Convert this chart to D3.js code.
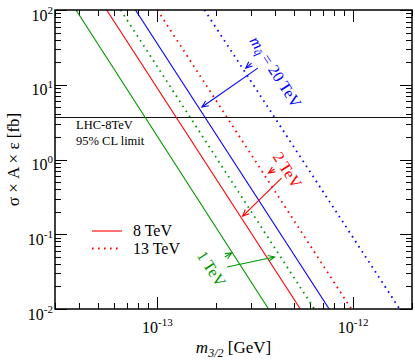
<!DOCTYPE html>
<html><head><meta charset="utf-8">
<script src="https://cdn.jsdelivr.net/npm/d3@7"></script>
<style>body{margin:0;background:#fff}svg{display:block}</style>
</head><body><svg id="c" width="415" height="361"></svg>
<script>
// ---------- data ----------
const xDomain = [3e-14, 2e-12];           // m_3/2 [GeV]
const yDomain = [1e-2, 1e2];              // sigma x A x eps [fb]
const xMajorTicks = [1e-13, 1e-12];
const xTickExponents = ["-13", "-12"];
const yMajorTicks = [1e-2, 1e-1, 1e0, 1e1, 1e2];
const yTickExponents = ["-2", "-1", "0", "1", "2"];

const squarkMasses = ["1 TeV", "1 TeV", "2 TeV", "2 TeV", "20 TeV", "20 TeV"];
const energies     = ["8 TeV", "13 TeV", "8 TeV", "13 TeV", "8 TeV", "13 TeV"];
const sigmaEnds    = [100, 0.01];  // sigma values at the two read-off points of each line
const m32AtSigmaTop    = [3.84e-14, 6.49e-14, 5.51e-14, 1.00e-13, 7.73e-14, 1.74e-13];
const m32AtSigmaBottom = [3.70e-13, 6.34e-13, 5.38e-13, 9.80e-13, 7.55e-13, 1.73e-12];
const lhcLimitFb = 3.7;

// annotation arrows [m, sigma]
const arrowMass  = ["20 TeV", "20 TeV", "2 TeV", "2 TeV", "1 TeV", "1 TeV"];
const arrowFrom  = [[3.26e-13, 16.7], [3.03e-13, 19.5], [4.31e-13, 0.565], [3.97e-13, 0.746], [2.27e-13, 0.0365], [2.21e-13, 0.0497]];
const arrowTo    = [[1.69e-13, 5.04], [2.83e-13, 16.7], [2.73e-13, 0.175], [3.70e-13, 0.659], [3.97e-13, 0.0497], [2.40e-13, 0.0561]];
const labelMass  = ["20 TeV", "2 TeV", "1 TeV"];
const labelAt    = [[4.04e-13, 15.0], [4.62e-13, 0.724], [1.89e-13, 0.0348]];

// ---------- styles ----------
const colorOf = {"1 TeV": "#009600", "2 TeV": "#ff0000", "20 TeV": "#0000ff"};
const FONT = "'Liberation Serif','Times New Roman',serif";

const W = 415, H = 361;
const M = {l: 55, t: 10, r: 3, b: 52};
const pw = W - M.l - M.r, ph = H - M.t - M.b;

const svg = d3.select("#c");
const x = d3.scaleLog().domain(xDomain).range([M.l, M.l + pw]);
const y = d3.scaleLog().domain(yDomain).range([M.t + ph, M.t]);

svg.append("defs").append("clipPath").attr("id", "clip")
  .append("rect").attr("x", M.l).attr("y", M.t).attr("width", pw).attr("height", ph);

// minor ticks lists
const xMinor = [], yMinor = [];
for (let e = -14; e <= -12; e++) for (let k = 2; k <= 9; k++) {
  const v = k * Math.pow(10, e);
  if (v > xDomain[0] * 0.999 && v < xDomain[1] * 1.001) xMinor.push(v);
}
for (let e = -2; e < 2; e++) for (let k = 2; k <= 9; k++) yMinor.push(k * Math.pow(10, e));

const tk = svg.append("g").attr("stroke", "#000").attr("stroke-width", 1);
function vt(v, len, top) {
  const X = Math.round(x(v)) + 0.5;
  const y0 = top ? M.t : M.t + ph;
  tk.append("line").attr("x1", X).attr("x2", X).attr("y1", y0).attr("y2", top ? y0 + len : y0 - len);
}
function ht(v, len, right) {
  const Y = Math.round(y(v)) + 0.5;
  const x0 = right ? M.l + pw : M.l;
  tk.append("line").attr("y1", Y).attr("y2", Y).attr("x1", x0).attr("x2", right ? x0 - len : x0 + len);
}
xMinor.forEach(v => { vt(v, 6, false); vt(v, 6, true); });
xMajorTicks.forEach(v => { vt(v, 12, false); vt(v, 12, true); });
yMinor.forEach(v => { ht(v, 6, false); ht(v, 6, true); });
yMajorTicks.forEach(v => { ht(v, 12, false); ht(v, 12, true); });

// lines
const lineGen = d3.line().x(d => x(d[0])).y(d => y(d[1]));
const plot = svg.append("g").attr("clip-path", "url(#clip)");
const limY = Math.round(y(lhcLimitFb)) + 0.5;
plot.append("line").attr("x1", M.l).attr("x2", M.l + pw)
  .attr("y1", limY).attr("y2", limY)
  .attr("stroke", "#111").attr("stroke-width", 1);
squarkMasses.forEach((mq, i) => {
  const pts = [[m32AtSigmaTop[i], sigmaEnds[0]], [m32AtSigmaBottom[i], sigmaEnds[1]]];
  const p = plot.append("path").attr("d", lineGen(pts)).attr("fill", "none")
    .attr("stroke", colorOf[mq]);
  if (energies[i] === "13 TeV") p.attr("stroke-width", 1.8).attr("stroke-dasharray", "1.6,4.4");
  else p.attr("stroke-width", 1.1);
});

// arrows
function arrow(g, x1, y1, x2, y2, col) {
  g.append("line").attr("x1", x1).attr("y1", y1).attr("x2", x2).attr("y2", y2)
    .attr("stroke", col).attr("stroke-width", 1.1);
  const a = Math.atan2(y2 - y1, x2 - x1), L = 7, s = 0.42;
  g.append("path").attr("fill", "none").attr("stroke", col).attr("stroke-width", 1.1)
    .attr("d", `M${x2 - L * Math.cos(a - s)},${y2 - L * Math.sin(a - s)}L${x2},${y2}L${x2 - L * Math.cos(a + s)},${y2 - L * Math.sin(a + s)}`);
}
const ann = svg.append("g");
arrowMass.forEach((mq, i) => {
  arrow(ann, x(arrowFrom[i][0]), y(arrowFrom[i][1]), x(arrowTo[i][0]), y(arrowTo[i][1]), colorOf[mq]);
});

// rotated labels
labelMass.forEach((mq, i) => {
  const t = ann.append("text")
    .attr("transform", `translate(${x(labelAt[i][0])},${y(labelAt[i][1])}) rotate(57)`)
    .attr("text-anchor", "middle").attr("dominant-baseline", "central")
    .attr("font-family", FONT).attr("font-size", 16).attr("fill", colorOf[mq]);
  if (i === 0) {
    t.append("tspan").attr("font-style", "italic").text("m");
    t.append("tspan").attr("font-style", "italic").attr("font-size", 11).attr("dy", 4).text("q\u0303");
    t.append("tspan").attr("dy", -4).text(" = " + mq);
  } else t.text(mq);
});

// frame
svg.append("rect").attr("x", M.l).attr("y", M.t).attr("width", pw).attr("height", ph)
  .attr("fill", "none").attr("stroke", "#000").attr("stroke-width", 1.5);

// tick labels
xMajorTicks.forEach((v, i) => {
  const t = svg.append("text").attr("x", x(v)).attr("y", 333).attr("text-anchor", "middle")
    .attr("font-family", FONT).attr("font-size", 16);
  t.append("tspan").text("10");
  t.append("tspan").attr("font-size", 11).attr("dy", -7).text(xTickExponents[i]);
});
yMajorTicks.forEach((v, i) => {
  const t = svg.append("text").attr("x", 53).attr("y", y(v) + 10.5).attr("text-anchor", "end")
    .attr("font-family", FONT).attr("font-size", 16);
  t.append("tspan").text("10");
  t.append("tspan").attr("font-size", 11).attr("dy", -7).text(yTickExponents[i]);
});

// axis titles
const xt = svg.append("text").attr("x", M.l + pw / 2).attr("y", 353).attr("text-anchor", "middle")
  .attr("font-family", FONT).attr("font-size", 17);
xt.append("tspan").attr("font-style", "italic").text("m");
xt.append("tspan").attr("font-style", "italic").attr("font-size", 12).attr("dy", 4).text("3/2");
xt.append("tspan").attr("dy", -4).text(" [GeV]");

svg.append("text").attr("transform", `translate(19,${M.t + ph / 2}) rotate(-90)`)
  .attr("text-anchor", "middle").attr("font-family", FONT).attr("font-size", 17)
  .text("σ × A × ε [fb]");

// LHC limit text
svg.append("text").attr("x", 76).attr("y", 129).attr("font-family", FONT).attr("font-size", 12.5).text("LHC-8TeV");
svg.append("text").attr("x", 76).attr("y", 145).attr("font-family", FONT).attr("font-size", 12.5).text("95% CL limit");

// legend
const legendEnergies = ["8 TeV", "13 TeV"];
legendEnergies.forEach((e, i) => {
  const yy = 231 + i * 17.5;
  const l = svg.append("line").attr("x1", 92).attr("x2", 122).attr("y1", yy).attr("y2", yy)
    .attr("stroke", colorOf["2 TeV"]);
  if (i === 1) l.attr("stroke-width", 1.8).attr("stroke-dasharray", "1.6,4.4");
  else l.attr("stroke-width", 1.1);
  svg.append("text").attr("x", 133).attr("y", yy + 5).attr("font-family", FONT).attr("font-size", 16).text(e);
});
</script></body></html>
